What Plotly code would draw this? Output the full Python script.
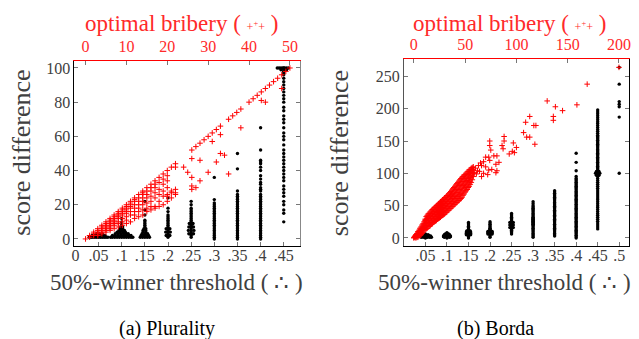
import plotly.graph_objects as go

FONT = "'Liberation Serif', 'Times New Roman', 'DejaVu Serif', serif"
RED = "#ff0000"
RED_TXT = "#ff2a2a"
GREY_TXT = "#404040"

# ---------------- (a) Plurality ----------------
pl_xtick_vals = [0, 0.05, 0.1, 0.15, 0.2, 0.25, 0.3, 0.35, 0.4, 0.45]
pl_xtick_text = ["0", ".05", ".1", ".15", ".2", ".25", ".3", ".35", ".4", ".45"]
pl_ytick_vals = [0, 20, 40, 60, 80, 100]
pl_toptick_vals = [0, 10, 20, 30, 40, 50]

# black: 50%-winner threshold columns -> score differences
pl_black_cols = {
    0.1: [8, 9, 10, 12],
    0.15: [7, 8, 9, 10, 11, 14, 17, 22],
    0.2: [1, 2, 3, 4, 5, 6, 7, 8, 9, 10, 11, 12, 13, 14, 16, 18, 24],
    0.25: [1, 2, 3, 4, 5, 6, 7, 8, 9, 10, 11, 12, 13, 14, 15, 16, 17, 18, 20, 22],
    0.3: [0, 1, 2, 3, 4, 5, 6, 7, 8, 9, 10, 11, 12, 13, 14, 15, 16, 17, 18, 19, 20, 21, 23, 36],
    0.35: [0, 1, 2, 3, 4, 5, 6, 7, 8, 9, 10, 11, 12, 13, 14, 15, 16, 17, 18, 19, 20, 21, 22, 23,
           24, 25, 26, 28, 41, 50],
    0.4: [0, 1, 2, 3, 4, 5, 6, 7, 8, 9, 10, 11, 12, 13, 14, 15, 16, 17, 18, 19, 20, 21, 22, 23, 24,
          25, 26, 28, 29, 30, 32, 33, 35, 37, 40, 42, 44, 45, 46, 52, 65],
    0.45: [10, 15, 17, 20, 22, 25, 27, 29, 31, 34, 36, 38, 40, 42, 44, 46, 48, 50, 52, 55, 58, 60,
           62, 65, 68, 70, 72, 75, 77, 80, 82, 84, 86, 88, 90, 92, 94, 96, 97, 98, 99, 100],
}
# black: horizontally spread points at the foot / top of the columns (threshold, score diff)
pl_black_spread = [
    (0.030, 1), (0.034, 1), (0.038, 1), (0.042, 1), (0.046, 1), (0.050, 1), (0.054, 1), (0.058, 1),
    (0.062, 1), (0.066, 1), (0.070, 1), (0.036, 2), (0.042, 2), (0.048, 2), (0.054, 2), (0.060, 2),
    (0.064, 2), (0.046, 3), (0.052, 3), (0.058, 3),
    (0.076, 1), (0.080, 1), (0.085, 1), (0.090, 1), (0.095, 1), (0.100, 1), (0.105, 1), (0.110, 1),
    (0.115, 1), (0.120, 1), (0.124, 1), (0.080, 2), (0.086, 2), (0.092, 2), (0.098, 2), (0.104, 2),
    (0.110, 2), (0.116, 2), (0.120, 2), (0.086, 3), (0.092, 3), (0.098, 3), (0.104, 3), (0.110, 3),
    (0.114, 3), (0.090, 4), (0.096, 4), (0.102, 4), (0.108, 4), (0.094, 5), (0.100, 5), (0.106, 5),
    (0.096, 6), (0.102, 6), (0.098, 7), (0.102, 7),
    (0.140, 1), (0.145, 1), (0.150, 1), (0.155, 1), (0.160, 1), (0.142, 2), (0.148, 2), (0.154, 2),
    (0.158, 2), (0.144, 3), (0.150, 3), (0.156, 3), (0.146, 4), (0.152, 4), (0.146, 5), (0.152, 5),
    (0.148, 6), (0.152, 6),
    (0.196, 2), (0.204, 2), (0.195, 4), (0.205, 4), (0.196, 6), (0.204, 6),
    (0.245, 3), (0.255, 3), (0.244, 5), (0.256, 5), (0.245, 7), (0.255, 7), (0.246, 9), (0.254, 9),
    (0.436, 100), (0.440, 100), (0.444, 100), (0.448, 100), (0.452, 100), (0.456, 100),
    (0.460, 100), (0.444, 99), (0.456, 99),
]
# red: optimal bribery -> score differences
pl_red = {
    0: [0], 1: [1, 2], 2: [2, 3, 4], 3: [2, 3, 4, 5, 6], 4: [3, 4, 5, 6, 7, 8],
    5: [4, 5, 6, 7, 8, 9, 10], 6: [5, 6, 7, 8, 9, 10, 11, 12],
    7: [6, 8, 9, 10, 11, 12, 13, 14], 8: [7, 9, 10, 12, 13, 14, 15, 16],
    9: [8, 10, 12, 14, 15, 16, 17, 18], 10: [9, 11, 13, 15, 16, 17, 18, 19, 20],
    11: [10, 14, 16, 18, 19, 20, 21, 22], 12: [12, 14, 16, 18, 20, 22, 23, 24],
    13: [13, 16, 18, 20, 22, 24, 26], 14: [14, 17, 20, 22, 24, 26, 27, 28],
    15: [16, 18, 21, 24, 26, 28, 30], 16: [17, 19, 22, 25, 28, 30, 32],
    17: [18, 19, 24, 27, 30, 32, 34], 18: [19, 22, 26, 29, 33, 36],
    19: [20, 25, 28, 32, 35, 38], 20: [22, 25, 26, 30, 34, 37, 40],
    21: [24, 27, 28, 42], 22: [26, 27, 29, 42, 44], 24: [42], 25: [39],
    26: [29, 31, 36, 47, 52], 27: [30, 54], 28: [34, 46, 56], 29: [58], 30: [39, 60],
    31: [57, 62], 32: [45, 64], 33: [50, 61, 66], 34: [49], 35: [38, 70], 36: [72],
    37: [74], 38: [65, 76], 40: [80], 41: [82], 42: [84], 43: [81, 86], 44: [80, 88],
    45: [90], 46: [92], 47: [94], 48: [88, 96], 49: [98], 50: [100],
}

# ---------------- (b) Borda ----------------
bd_xtick_vals = [0.05, 0.1, 0.15, 0.2, 0.25, 0.3, 0.35, 0.4, 0.45, 0.5]
bd_xtick_text = [".05", ".1", ".15", ".2", ".25", ".3", ".35", ".4", ".45", ".5"]
bd_ytick_vals = [0, 50, 100, 150, 200, 250]
bd_toptick_vals = [0, 50, 100, 150, 200]

bd_black_cols = {
    0.05: [0, 1, 2, 3, 4, 5, 6],
    0.1: [0, 1, 2, 3, 4, 5, 6, 7, 8],
    0.15: [0, 2, 3, 4, 5, 6, 7, 8, 9, 10, 11, 12, 13, 14, 16, 18, 20, 22, 24],
    0.2: [1, 3, 5, 6, 7, 8, 9, 10, 11, 12, 13, 14, 15, 17, 19, 21, 23, 25],
    0.25: [6, 8, 10, 12, 14, 15, 16, 17, 18, 19, 20, 21, 22, 23, 24, 25, 26, 28, 30, 32, 34, 36, 38],
    0.3: [1, 3, 5, 7, 9, 11, 13, 15, 17, 19, 20, 21, 22, 23, 24, 25, 26, 27, 28, 29, 30, 31, 32,
          34, 36, 38, 40, 42, 44, 46, 48, 50, 53, 56],
    0.35: [3, 5, 7, 9, 11, 13, 15, 17, 19, 21, 23, 25, 27, 29, 31, 33, 35, 37, 39, 41, 43, 45, 47,
           49, 51, 53, 55, 57, 59, 61, 63, 65, 67, 69, 71, 73],
    0.4: [0, 2, 4, 6, 8, 10, 12, 14, 16, 18, 20, 22, 24, 26, 28, 30, 32, 34, 36, 38, 40, 42, 44,
          46, 48, 50, 52, 54, 56, 58, 60, 62, 64, 66, 68, 70, 72, 74, 76, 78, 80, 82, 84, 86, 88,
          90, 92, 95, 104, 117, 131],
    0.45: [14, 17, 20, 23, 26, 29, 32, 35, 38, 41, 44, 47, 50, 53, 56, 59, 62, 65, 68, 71, 74, 77,
           80, 83, 86, 89, 92, 95, 97, 99, 100, 101, 103, 105, 107, 109, 111, 113, 115, 117, 119,
           121, 123, 125, 127, 129, 131, 133, 135, 137, 139, 141, 143, 145, 147, 149, 151, 153,
           155, 157, 159, 162, 165, 168, 171, 174, 177, 180, 183, 186, 189, 192, 195, 198],
    0.5: [100, 187, 203, 207, 211, 238, 264],
}
bd_black_spread = [
    (0.040, 1), (0.045, 1), (0.055, 1), (0.060, 1), (0.064, 1), (0.042, 2), (0.048, 2), (0.054, 2),
    (0.060, 2), (0.044, 3), (0.056, 3), (0.062, 3), (0.046, 4), (0.058, 4), (0.056, 5),
    (0.094, 1), (0.106, 1), (0.092, 2), (0.098, 2), (0.104, 2), (0.108, 2), (0.092, 3),
    (0.108, 3), (0.094, 4), (0.106, 4), (0.094, 5), (0.106, 5), (0.096, 6), (0.104, 6),
    (0.145, 5), (0.155, 5), (0.145, 7), (0.155, 7), (0.145, 9), (0.155, 9), (0.146, 11), (0.154, 11),
    (0.195, 6), (0.205, 6), (0.195, 8), (0.205, 8), (0.195, 10), (0.205, 10),
    (0.246, 16), (0.254, 16), (0.246, 20), (0.254, 20), (0.246, 24), (0.254, 24),
    (0.445, 100), (0.455, 100), (0.447, 97), (0.453, 97), (0.447, 103), (0.453, 103),
]
# red band: optimal bribery -> score differences
bd_red_band = {
    0: [0, 1], 1: [1, 2, 3], 2: [0, 2, 4, 5], 3: [1, 3, 5, 7], 4: [1, 4, 7, 10],
    5: [3, 6, 9, 12], 6: [4, 7, 11, 15], 7: [5, 9, 13, 17], 8: [7, 11, 15, 20],
    9: [9, 13, 17, 22], 10: [12, 16, 20, 25], 11: [13, 17, 22, 27, 29],
    12: [14, 19, 24, 29, 33], 13: [15, 20, 25, 30, 35], 14: [17, 22, 27, 32, 37],
    15: [18, 23, 28, 33, 38], 16: [19, 24, 30, 35, 40], 17: [21, 26, 31, 37, 42],
    18: [22, 27, 33, 38, 44], 19: [24, 29, 34, 40, 45], 20: [25, 30, 36, 41, 47],
    21: [26, 31, 37, 43, 48], 22: [27, 33, 39, 44, 50], 23: [29, 34, 40, 46, 51],
    24: [30, 36, 41, 47, 53], 25: [31, 37, 43, 49, 54], 26: [32, 38, 44, 50, 56],
    27: [34, 40, 46, 52, 57], 28: [35, 41, 47, 53, 59], 29: [36, 42, 48, 54, 60],
    30: [37, 43, 50, 56, 62], 31: [39, 45, 51, 57, 63], 32: [40, 46, 53, 59, 65],
    33: [42, 48, 54, 60, 66], 34: [43, 49, 56, 62, 68], 35: [45, 51, 57, 64, 70],
    36: [46, 53, 59, 66, 72], 37: [48, 54, 61, 67, 74], 38: [49, 56, 62, 69, 76],
    39: [51, 57, 64, 71, 78], 40: [52, 59, 66, 73, 80], 41: [54, 61, 68, 75, 82],
    42: [55, 62, 70, 77, 84], 43: [57, 64, 71, 79, 86], 44: [58, 66, 73, 81, 88],
    45: [60, 67, 75, 83, 90], 46: [61, 69, 77, 85, 92], 47: [63, 71, 79, 87, 94],
    48: [66, 73, 81, 88, 95], 49: [68, 76, 83, 90, 97], 50: [71, 78, 85, 92, 98],
    51: [73, 80, 87, 94, 100], 52: [75, 82, 89, 96, 102], 53: [78, 85, 92, 98, 103],
    54: [80, 87, 94, 100, 105], 55: [83, 90, 96, 102, 106], 56: [86, 93, 99, 104, 108],
    57: [90, 96, 101, 106, 109], 58: [95, 100, 105, 110],
}
# red scattered points outside the band (bribery, score diff)
bd_red_sparse = [
    (200, 264), (169, 238), (159, 206), (130, 212), (138, 203), (145, 197), (136, 188),
    (136, 182), (113, 188), (109, 179), (117, 174), (119, 174), (107, 163), (110, 156),
    (113, 156), (118, 145), (97, 147), (100, 140), (96, 134), (93, 130), (98, 132), (88, 157),
    (88, 150), (86, 143), (87, 138), (74, 150), (74, 143), (75, 136), (73, 125), (78, 127),
    (81, 127), (83, 117), (80, 114), (74, 120), (65, 116), (62, 104), (81, 104), (73, 105),
    (66, 112), (76, 106), (80, 101), (68, 100), (66, 95), (70, 110), (72, 98), (60, 108),
    (63, 112), (68, 118), (70, 125), (61, 99), (64, 103), (59, 101),
]


def flatten_cols(cols):
    xs, ys = [], []
    for k, vals in cols.items():
        for v in vals:
            xs.append(k)
            ys.append(v)
    return xs, ys


pl_bx, pl_by = flatten_cols(pl_black_cols)
pl_bx += [p[0] for p in pl_black_spread]
pl_by += [p[1] for p in pl_black_spread]
pl_rx, pl_ry = flatten_cols(pl_red)

bd_bx, bd_by = flatten_cols(bd_black_cols)
bd_bx += [p[0] for p in bd_black_spread]
bd_by += [p[1] for p in bd_black_spread]
bd_rx, bd_ry = flatten_cols(bd_red_band)
bd_rx += [p[0] for p in bd_red_sparse]
bd_ry += [p[1] for p in bd_red_sparse]

black_marker = dict(color="black", size=3.4, line=dict(width=0))
red_marker = dict(symbol="cross-thin", size=4, line=dict(color=RED, width=1), color=RED)

fig = go.Figure()
fig.add_trace(go.Scatter(x=pl_bx, y=pl_by, mode="markers", marker=black_marker, xaxis="x", yaxis="y"))
fig.add_trace(go.Scatter(x=pl_rx, y=pl_ry, mode="markers", marker=red_marker, xaxis="x2", yaxis="y"))
fig.add_trace(go.Scatter(x=[], y=[], xaxis="x", yaxis="y3"))
fig.add_trace(go.Scatter(x=bd_bx, y=bd_by, mode="markers", marker=black_marker, xaxis="x3", yaxis="y2"))
fig.add_trace(go.Scatter(x=bd_rx, y=bd_ry, mode="markers", marker=red_marker, xaxis="x4", yaxis="y2"))
fig.add_trace(go.Scatter(x=[], y=[], xaxis="x3", yaxis="y4"))

W, H = 639, 339
tickfont = dict(family=FONT, size=16, color=GREY_TXT)
redtickfont = dict(family=FONT, size=16, color=RED_TXT)
common = dict(ticks="inside", ticklen=4, tickwidth=1, tickcolor="#777", showgrid=False,
              zeroline=False, showline=True, linewidth=1)

pl_dom_x = [64 / W, 291 / W]
pl_dom_y = [1 - 239 / H, 1 - 52 / H]
bd_dom_x = [396 / W, 623 / W]
bd_dom_y = [1 - 239 / H, 1 - 50 / H]
pl_yrange = [-4.06, 104.35]
bd_yrange = [-12.3, 277.6]

fig.update_layout(
    width=W, height=H, margin=dict(l=0, r=0, t=0, b=0),
    paper_bgcolor="white", plot_bgcolor="white", showlegend=False,
    font=dict(family=FONT),
    xaxis=dict(domain=pl_dom_x, range=[-0.002, 0.4845], anchor="y", side="bottom",
               tickvals=pl_xtick_vals, ticktext=pl_xtick_text, tickfont=tickfont,
               linecolor="black", ticklabelstandoff=-5, **common),
    xaxis2=dict(overlaying="x", anchor="y", side="top", range=[-2.7, 52.4],
                tickvals=pl_toptick_vals, tickfont=redtickfont, linecolor=RED,
                ticklabelstandoff=1, **common),
    yaxis=dict(domain=pl_dom_y, range=pl_yrange, anchor="x", side="left",
               tickvals=pl_ytick_vals, tickfont=tickfont, linecolor="black", **common),
    yaxis3=dict(overlaying="y", anchor="x", side="right", range=pl_yrange,
                tickvals=pl_ytick_vals, showticklabels=False, linecolor="#888", **common),
    xaxis3=dict(domain=bd_dom_x, range=[0, 0.523], anchor="y2", side="bottom",
                tickvals=bd_xtick_vals, ticktext=bd_xtick_text, tickfont=tickfont,
                linecolor="black", ticklabelstandoff=-5, **common),
    xaxis4=dict(overlaying="x3", anchor="y2", side="top", range=[-9.7, 209.9],
                tickvals=bd_toptick_vals, tickfont=redtickfont, linecolor=RED,
                ticklabelstandoff=1, **common),
    yaxis2=dict(domain=bd_dom_y, range=bd_yrange, anchor="x3", side="left",
                tickvals=bd_ytick_vals, tickfont=tickfont, linecolor="#555", **common),
    yaxis4=dict(overlaying="y2", anchor="x3", side="right", range=bd_yrange,
                tickvals=bd_ytick_vals, showticklabels=False, linecolor="black", **common),
)

top_title = ("optimal bribery ( <span style='font-size:12px'>+<sup>+</sup>+</span> )")
bottom_title = "50%-winner threshold ( ∴ )"
ann = []
for tx, bx, cx, cap, ytx in [(172, 167, 157, "(a) Plurality", 11),
                             (502, 497, 488, "(b) Borda", 331)]:
    ann.append(dict(x=tx / W, y=1 - 15 / H, text=top_title, showarrow=False,
                    xref="paper", yref="paper", xanchor="center", yanchor="middle",
                    font=dict(family=FONT, size=23, color=RED_TXT)))
    ann.append(dict(x=bx / W, y=1 - 276 / H, text=bottom_title, showarrow=False,
                    xref="paper", yref="paper", xanchor="center", yanchor="middle",
                    font=dict(family=FONT, size=23, color=GREY_TXT)))
    ann.append(dict(x=ytx / W, y=1 - 145 / H, text="score difference", textangle=-90,
                    showarrow=False, xref="paper", yref="paper", xanchor="center",
                    yanchor="middle", font=dict(family=FONT, size=26, color=GREY_TXT)))
    ann.append(dict(x=cx / W, y=1 - 322 / H, text=cap, showarrow=False,
                    xref="paper", yref="paper", xanchor="center", yanchor="middle",
                    font=dict(family=FONT, size=20, color="black")))
fig.update_layout(annotations=ann)

fig.write_html("out.html")
